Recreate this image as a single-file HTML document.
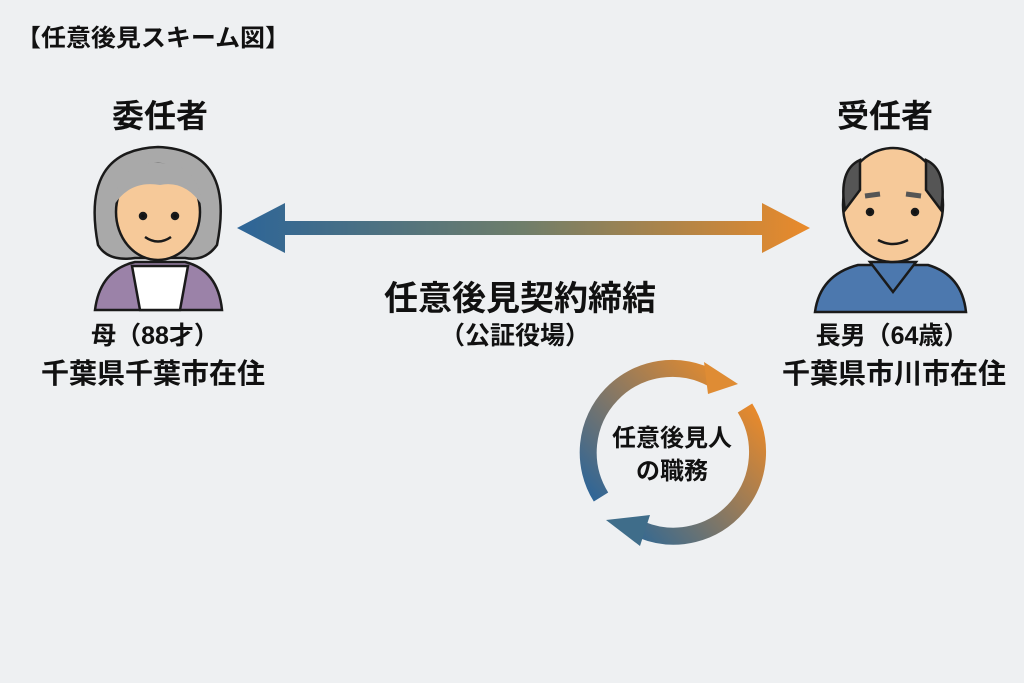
<!DOCTYPE html>
<html><head><meta charset="utf-8"><style>
body{margin:0;width:1024px;height:683px;overflow:hidden;background:#eef0f2;}
svg{display:block}
text{font-family:"Liberation Sans","Noto Sans CJK JP",sans-serif;font-weight:bold;fill:#111;}
</style></head><body>
<svg width="1024" height="683" viewBox="0 0 1024 683">
<defs>
<linearGradient id="g" x1="0" x2="1"><stop offset="0" stop-color="#2d6598"/><stop offset="0.5" stop-color="#6f7e6a"/><stop offset="1" stop-color="#ea8a2a"/></linearGradient>
<linearGradient id="g2" x1="0" y1="1" x2="1" y2="0"><stop offset="0" stop-color="#2d6598"/><stop offset="1" stop-color="#e08a30"/></linearGradient>
<linearGradient id="g3" x1="1" y1="0" x2="0" y2="1"><stop offset="0" stop-color="#ea8a2a"/><stop offset="1" stop-color="#3b6a8e"/></linearGradient>
</defs>
<text x="16" y="46" font-size="24" textLength="274" lengthAdjust="spacingAndGlyphs">【任意後見スキーム図】</text>
<text x="160" y="127" font-size="32" text-anchor="middle">委任者</text>
<text x="885" y="127" font-size="32" text-anchor="middle">受任者</text>

<polygon points="237,228 285,203 285,221 762,221 762,203 810,228 762,253 762,235 285,235 285,253" fill="url(#g)"/>

<g stroke="#1a1a1a" stroke-width="2.5">
<path d="M95,310 Q100,270 135,262 L185,262 Q218,270 222,310 Z" fill="#9b82a8"/>
<path d="M132,266 L140,310 L180,310 L188,266 Z" fill="#fff"/>
<path d="M98,245 Q80,150 158,147 Q236,150 217,245 Q205,262 185,258 L135,258 Q108,262 98,245 Z" fill="#a9a9a9"/>
<ellipse cx="158" cy="212" rx="42" ry="48" fill="#f6c999"/>
<path d="M114,205 Q118,160 160,163 Q198,163 202,205 Q185,180 160,185 Q130,180 114,205 Z" fill="#a9a9a9" stroke="none"/>
<circle cx="143" cy="216" r="3" fill="#111"/><circle cx="175" cy="216" r="3" fill="#111"/>
<path d="M145,237 Q158,246 171,237" fill="none"/>
</g>

<g stroke="#1a1a1a" stroke-width="2.5">
<path d="M815,312 Q820,275 858,265 L928,265 Q962,275 966,312 Z" fill="#4c78ae"/>
<path d="M870,262 L893,292 L916,262 Z" fill="#4c78ae"/>
<ellipse cx="893" cy="205" rx="50" ry="57" fill="#f6c999"/>
<path d="M845,210 Q838,170 860,160 L860,190 Z" fill="#555"/>
<path d="M941,210 Q948,170 926,160 L926,190 Z" fill="#555"/>
<path d="M865,196 L880,194 M906,194 L921,196" stroke-width="5" stroke="#555"/>
<circle cx="870" cy="212" r="3" fill="#111"/><circle cx="915" cy="212" r="3" fill="#111"/>
<path d="M878,240 Q893,248 908,240" fill="none"/>
</g>

<text x="155" y="344" font-size="25" text-anchor="middle">母（88才）</text>
<text x="153" y="383" font-size="28" text-anchor="middle">千葉県千葉市在住</text>
<text x="892" y="344" font-size="25" text-anchor="middle">長男（64歳）</text>
<text x="894" y="383" font-size="28" text-anchor="middle">千葉県市川市在住</text>
<text x="520" y="310" font-size="34" text-anchor="middle">任意後見契約締結</text>
<text x="515" y="344" font-size="25" text-anchor="middle" font-weight="normal">（公証役場）</text>

<path d="M601,497 A84,84 0 0 1 713,379" fill="none" stroke="url(#g2)" stroke-width="17"/>
<polygon points="704,362 738,384 708,394" fill="#df8c34"/>
<path d="M745,408 A84,84 0 0 1 642,530" fill="none" stroke="url(#g3)" stroke-width="17"/>
<polygon points="650,515 606,520 640,546" fill="#3f6d8a"/>
<text x="672" y="446" font-size="24" text-anchor="middle">任意後見人</text>
<text x="672" y="479" font-size="24" text-anchor="middle">の職務</text>
</svg>
</body></html>
